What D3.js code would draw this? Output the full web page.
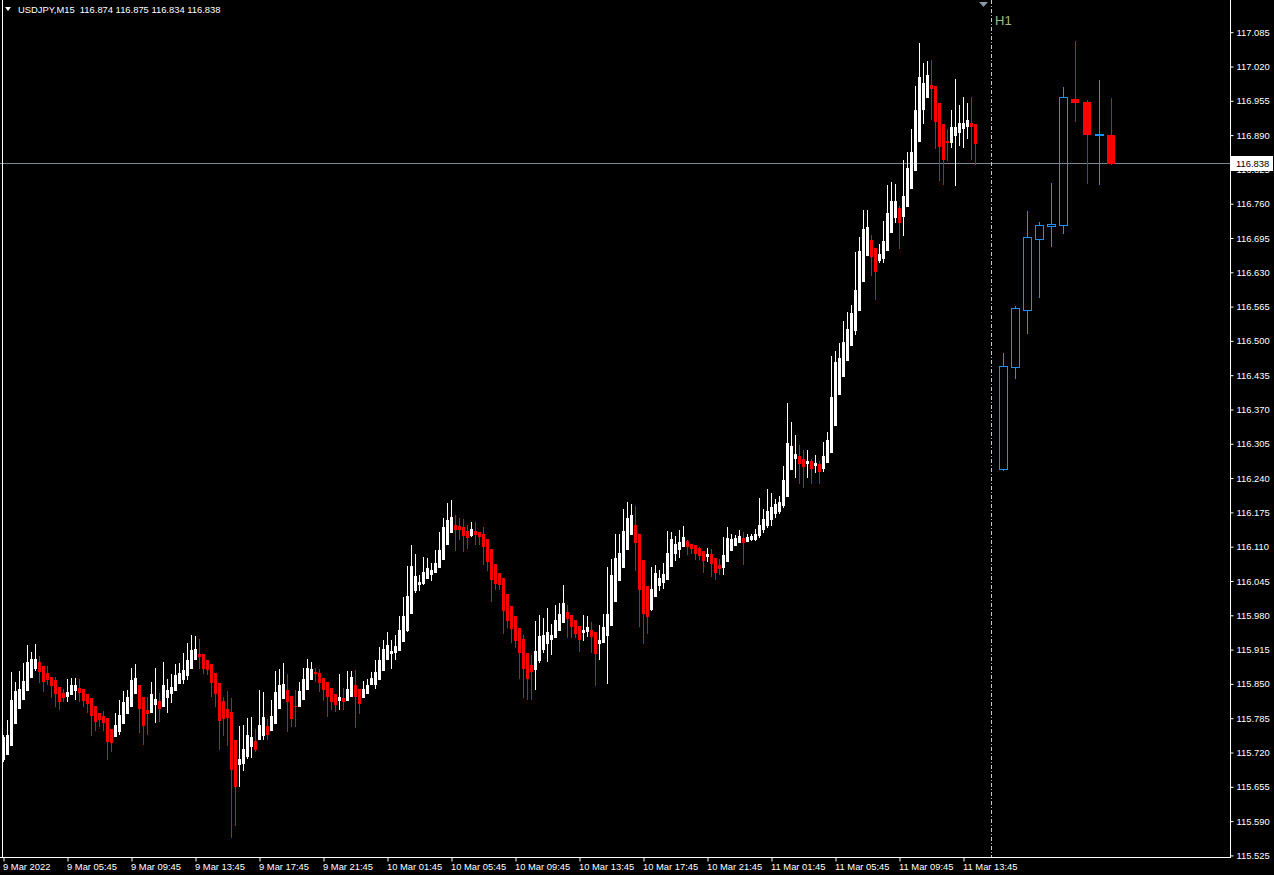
<!DOCTYPE html>
<html><head><meta charset="utf-8">
<script src="https://cdn.jsdelivr.net/npm/d3@7"></script>
<style>
html,body{margin:0;padding:0;background:#000;overflow:hidden;}
svg{display:block;}
text{font-family:"Liberation Sans",Arial,sans-serif;}
</style></head><body>
<svg id="chart" width="1274" height="875"></svg>
<script>
const symbolTitle = "USDJPY,M15  116.874 116.875 116.834 116.838";
const bidPrice = 116.838;
const periodLabel = "H1";
const priceTicks = [117.085,117.020,116.955,116.890,116.825,116.760,116.695,116.630,116.565,116.500,116.435,116.370,116.305,116.240,116.175,116.110,116.045,115.980,115.915,115.850,115.785,115.720,115.655,115.590,115.525];
const timeTickIndex = [0,16,32,48,64,80,96,112,128,144,160,176,192,208,224,240];
const timeLabels = ["9 Mar 2022","9 Mar 05:45","9 Mar 09:45","9 Mar 13:45","9 Mar 17:45","9 Mar 21:45","10 Mar 01:45","10 Mar 05:45","10 Mar 09:45","10 Mar 13:45","10 Mar 17:45","10 Mar 21:45","11 Mar 01:45","11 Mar 05:45","11 Mar 09:45","11 Mar 13:45"];

const m15Open = [115.707,115.718,115.734,115.775,115.804,115.821,115.838,115.864,115.880,115.891,115.883,115.870,115.864,115.857,115.845,115.832,115.828,115.830,115.838,115.843,115.840,115.830,115.823,115.809,115.794,115.790,115.785,115.764,115.751,115.760,115.775,115.794,115.809,115.832,115.847,115.826,115.800,115.796,115.811,115.817,115.809,115.826,115.832,115.838,115.851,115.859,115.866,115.880,115.897,115.906,115.906,115.895,115.887,115.870,115.851,115.817,115.802,115.796,115.743,115.698,115.701,115.713,115.732,115.741,115.745,115.753,115.770,115.762,115.775,115.804,115.823,115.838,115.828,115.809,115.808,115.821,115.840,115.859,115.872,115.870,115.862,115.853,115.842,115.830,115.819,115.823,115.819,115.828,115.847,115.840,115.825,115.832,115.849,115.849,115.859,115.876,115.897,115.908,115.910,115.914,115.931,115.953,115.984,116.027,116.039,116.041,116.050,116.058,116.062,116.071,116.086,116.115,116.137,116.152,116.149,116.147,116.139,116.132,116.139,116.137,116.134,116.124,116.105,116.077,116.060,116.050,116.020,115.997,115.978,115.955,115.935,115.908,115.885,115.878,115.895,115.916,115.927,115.936,115.938,115.953,115.967,115.986,115.980,115.971,115.959,115.948,115.950,115.953,115.948,115.927,115.929,115.942,115.961,116.007,116.046,116.071,116.105,116.134,116.152,116.135,116.084,116.035,115.991,116.016,116.037,116.043,116.048,116.073,116.098,116.105,116.111,116.120,116.116,116.113,116.107,116.101,116.092,116.096,116.088,116.075,116.071,116.082,116.103,116.113,116.118,116.126,116.120,116.124,116.124,116.132,116.143,116.151,116.162,116.173,116.177,116.189,116.207,116.257,116.278,116.281,116.276,116.268,116.272,116.264,116.266,116.259,116.270,116.289,116.340,116.399,116.433,116.463,116.492,116.520,116.558,116.613,116.662,116.691,116.676,116.653,116.657,116.672,116.706,116.734,116.751,116.736,116.755,116.789,116.823,116.878,116.939,116.962,116.985,116.983,116.950,116.911,116.878,116.876,116.890,116.895,116.903,116.907,116.913,116.911];
const m15High = [115.753,115.781,115.872,115.853,115.874,115.889,115.923,115.910,115.925,115.902,115.883,115.883,115.864,115.864,115.845,115.840,115.859,115.861,115.861,115.859,115.840,115.830,115.823,115.809,115.794,115.798,115.785,115.764,115.794,115.819,115.836,115.838,115.881,115.887,115.847,115.826,115.826,115.853,115.880,115.832,115.891,115.859,115.868,115.887,115.889,115.908,115.927,115.942,115.940,115.935,115.906,115.895,115.887,115.870,115.851,115.826,115.836,115.823,115.743,115.770,115.772,115.785,115.787,115.764,115.838,115.834,115.783,115.819,115.874,115.878,115.889,115.868,115.828,115.838,115.853,115.880,115.898,115.891,115.880,115.878,115.862,115.853,115.842,115.830,115.868,115.842,115.874,115.874,115.876,115.840,115.855,115.859,115.872,115.895,115.919,115.933,115.948,115.933,115.942,115.978,116.014,116.073,116.113,116.096,116.056,116.090,116.088,116.080,116.103,116.137,116.164,116.192,116.198,116.171,116.164,116.162,116.151,116.156,116.156,116.137,116.147,116.124,116.105,116.077,116.060,116.050,116.020,115.997,115.978,115.955,115.942,115.908,115.904,115.969,115.980,115.974,115.993,115.963,115.999,116.003,116.037,115.999,115.980,115.971,115.959,115.980,115.978,115.967,115.948,115.961,115.982,116.071,116.086,116.135,116.135,116.181,116.194,116.190,116.187,116.135,116.084,116.035,116.071,116.075,116.065,116.080,116.139,116.137,116.130,116.141,116.149,116.122,116.116,116.113,116.109,116.101,116.107,116.105,116.088,116.086,116.128,116.147,116.134,116.132,116.141,116.137,116.134,116.135,116.143,116.202,116.181,116.219,116.211,116.200,116.206,116.262,116.382,116.346,116.321,116.302,116.293,116.293,116.276,116.283,116.272,116.308,116.327,116.471,116.480,116.496,116.537,116.554,116.568,116.668,116.696,116.748,116.748,116.700,116.676,116.683,116.727,116.795,116.801,116.797,116.755,116.842,116.858,116.901,116.983,117.064,117.026,117.030,117.032,116.983,116.950,116.911,116.901,116.937,116.996,116.947,116.962,116.950,116.962,116.911];
const m15Low = [115.703,115.718,115.734,115.775,115.804,115.821,115.838,115.864,115.876,115.853,115.836,115.849,115.825,115.808,115.802,115.817,115.817,115.830,115.821,115.817,115.809,115.796,115.754,115.762,115.770,115.762,115.707,115.722,115.751,115.756,115.775,115.794,115.809,115.832,115.758,115.737,115.756,115.796,115.777,115.779,115.809,115.796,115.815,115.838,115.851,115.851,115.859,115.880,115.897,115.880,115.870,115.868,115.828,115.809,115.726,115.753,115.734,115.559,115.582,115.656,115.686,115.709,115.711,115.722,115.745,115.745,115.745,115.762,115.775,115.804,115.823,115.760,115.770,115.770,115.808,115.821,115.840,115.859,115.855,115.836,115.819,115.789,115.802,115.798,115.802,115.802,115.819,115.828,115.768,115.794,115.825,115.832,115.849,115.842,115.859,115.876,115.897,115.880,115.897,115.914,115.931,115.950,115.984,116.024,116.027,116.039,116.050,116.046,116.062,116.071,116.086,116.115,116.137,116.103,116.124,116.101,116.107,116.130,116.116,116.116,116.077,116.065,116.008,116.029,116.029,115.946,115.957,115.929,115.919,115.862,115.825,115.821,115.821,115.840,115.891,115.910,115.893,115.906,115.938,115.953,115.967,115.938,115.938,115.938,115.912,115.933,115.940,115.910,115.847,115.898,115.929,115.851,115.961,116.007,116.046,116.071,116.105,116.134,116.065,115.959,115.927,115.946,115.990,116.016,116.027,116.031,116.048,116.073,116.084,116.090,116.111,116.096,116.099,116.086,116.086,116.062,116.082,116.054,116.048,116.058,116.058,116.082,116.103,116.113,116.118,116.077,116.120,116.122,116.122,116.128,116.137,116.147,116.152,116.166,116.173,116.185,116.207,116.257,116.243,116.230,116.224,116.243,116.230,116.251,116.230,116.253,116.270,116.289,116.340,116.399,116.433,116.463,116.492,116.513,116.558,116.613,116.662,116.624,116.579,116.649,116.649,116.672,116.706,116.725,116.676,116.700,116.755,116.789,116.823,116.878,116.913,116.962,116.920,116.865,116.805,116.797,116.842,116.867,116.795,116.871,116.867,116.884,116.844,116.835];
const m15Close = [115.749,115.753,115.819,115.836,115.840,115.855,115.891,115.898,115.898,115.874,115.855,115.859,115.847,115.832,115.817,115.825,115.834,115.847,115.847,115.834,115.819,115.813,115.792,115.779,115.783,115.777,115.741,115.739,115.772,115.792,115.815,115.825,115.857,115.862,115.804,115.772,115.794,115.830,115.821,115.804,115.847,115.838,115.845,115.866,115.870,115.876,115.895,115.914,115.916,115.902,115.881,115.878,115.853,115.832,115.781,115.785,115.787,115.688,115.656,115.707,115.726,115.753,115.749,115.726,115.773,115.787,115.756,115.789,115.834,115.847,115.849,115.817,115.785,115.808,115.836,115.859,115.881,115.878,115.870,115.853,115.840,115.828,115.817,115.811,115.825,115.817,115.840,115.864,115.828,115.813,115.840,115.847,115.862,115.872,115.895,115.917,115.923,115.912,115.921,115.952,115.978,116.016,116.073,116.054,116.043,116.062,116.069,116.065,116.080,116.103,116.147,116.160,116.166,116.143,116.143,116.132,116.128,116.143,116.135,116.130,116.111,116.082,116.048,116.041,116.039,115.990,115.972,115.955,115.933,115.910,115.880,115.861,115.874,115.912,115.940,115.942,115.948,115.942,115.971,115.982,116.003,115.974,115.959,115.946,115.936,115.953,115.957,115.940,115.908,115.933,115.957,115.982,116.056,116.088,116.098,116.139,116.164,116.170,116.118,116.029,115.984,115.978,116.029,116.060,116.050,116.058,116.099,116.124,116.116,116.118,116.128,116.111,116.107,116.099,116.094,116.084,116.096,116.080,116.062,116.069,116.094,116.126,116.124,116.126,116.130,116.118,116.128,116.130,116.135,116.151,116.162,116.177,116.185,116.190,116.194,116.236,116.306,116.300,116.285,116.268,116.263,116.272,116.259,116.268,116.253,116.281,116.312,116.393,116.460,116.467,116.497,116.522,116.552,116.596,116.670,116.712,116.715,116.660,116.632,116.664,116.689,116.742,116.765,116.765,116.725,116.774,116.827,116.858,116.937,117.000,116.988,117.004,116.979,116.916,116.869,116.844,116.876,116.905,116.905,116.913,116.913,116.918,116.907,116.875];

const h1Open  = [116.257,116.450,116.558,116.693,116.717,116.719,116.958,116.952,116.891,116.891];
const h1High  = [116.478,116.566,116.746,116.725,116.799,116.981,117.068,116.956,116.994,116.960];
const h1Low   = [116.255,116.429,116.515,116.583,116.679,116.704,116.916,116.799,116.797,116.836];
const h1Close = [116.452,116.562,116.696,116.719,116.721,116.962,116.952,116.893,116.893,116.838];

const W = 1274, H = 875;
const plotRight = 1230, plotBottom = 857;
const svg = d3.select("#chart");
svg.append("rect").attr("width", W).attr("height", H).attr("fill", "#000");

const y = d3.scaleLinear().domain([115.525, 117.085]).range([855.4, 32.2]);
const x = d3.scaleLinear().domain([0, m15Open.length - 1]).range([3.5, 3.5 + 4 * (m15Open.length - 1)]);
const xh = d3.scaleLinear().domain([0, h1Open.length - 1]).range([1003.5, 1003.5 + 12 * (h1Open.length - 1)]);
const py = v => Math.round(y(v));

// bid line
svg.append("line").attr("x1", 0).attr("x2", plotRight).attr("y1", py(bidPrice) + 0.5).attr("y2", py(bidPrice) + 0.5)
  .attr("stroke", "#778899").attr("stroke-width", 1);

// M15 candles
const m15 = m15Open.map((o, i) => ({ i, o, h: m15High[i], l: m15Low[i], c: m15Close[i] }));
const gM = svg.append("g").attr("shape-rendering", "crispEdges");
gM.selectAll("rect.wick").data(m15).join("rect").attr("class", "wick")
  .attr("x", d => Math.floor(x(d.i))).attr("width", 1)
  .attr("y", d => py(d.h)).attr("height", d => Math.max(1, py(d.l) - py(d.h) + 1))
  .attr("fill", d => d.c >= d.o ? "#ffffff" : "#ff0000");
gM.selectAll("rect.body").data(m15).join("rect").attr("class", "body")
  .attr("x", d => Math.floor(x(d.i)) - 1).attr("width", 3)
  .attr("y", d => py(Math.max(d.o, d.c))).attr("height", d => Math.max(1, py(Math.min(d.o, d.c)) - py(Math.max(d.o, d.c)) + 1))
  .attr("fill", d => d.c >= d.o ? "#ffffff" : "#ff0000");

// period separator (dashed)
svg.append("line").attr("x1", 991.5).attr("x2", 991.5).attr("y1", 0).attr("y2", plotBottom)
  .attr("stroke", "#c8c8c8").attr("stroke-width", 1).attr("stroke-dasharray", "4,2,1,2");

// H1 candles
const h1 = h1Open.map((o, i) => ({ i, o, h: h1High[i], l: h1Low[i], c: h1Close[i] }));
const gH = svg.append("g").attr("shape-rendering", "crispEdges");
h1.forEach(d => {
  const cx = Math.floor(xh(d.i));
  const top = py(Math.max(d.o, d.c)), bot = py(Math.min(d.o, d.c));
  if (d.c >= d.o) {
    const col = "#1e90ff";
    gH.append("rect").attr("x", cx).attr("width", 1).attr("y", py(d.h)).attr("height", Math.max(0, top - py(d.h))).attr("fill", col);
    gH.append("rect").attr("x", cx).attr("width", 1).attr("y", bot).attr("height", Math.max(0, py(d.l) - bot + 1)).attr("fill", col);
    gH.append("rect").attr("x", cx - 3.5).attr("width", 8).attr("y", top + 0.5).attr("height", Math.max(1, bot - top))
      .attr("fill", "none").attr("stroke", col).attr("stroke-width", 1);
  } else {
    const col = "#ff0000";
    gH.append("rect").attr("x", cx).attr("width", 1).attr("y", py(d.h)).attr("height", py(d.l) - py(d.h) + 1).attr("fill", col);
    gH.append("rect").attr("x", cx - 4).attr("width", 8).attr("y", top).attr("height", Math.max(2, bot - top + 1)).attr("fill", col);
  }
});

// frame lines
svg.append("line").attr("x1", plotRight + 0.5).attr("x2", plotRight + 0.5).attr("y1", 0).attr("y2", plotBottom + 1).attr("stroke", "#fff");
svg.append("line").attr("x1", 0).attr("x2", plotRight + 1).attr("y1", plotBottom + 0.5).attr("y2", plotBottom + 0.5).attr("stroke", "#fff");
svg.append("line").attr("x1", 2.5).attr("x2", 2.5).attr("y1", 0).attr("y2", plotBottom).attr("stroke", "#fff");

// price axis
const yAxis = d3.axisRight(y).tickValues(priceTicks).tickFormat(d3.format(".3f")).tickSize(3).tickPadding(3);
const gy = svg.append("g").attr("transform", `translate(${plotRight + 0.5},0)`).call(yAxis);
gy.select(".domain").remove();
gy.selectAll(".tick line").attr("stroke", "#fff");
gy.selectAll(".tick text").attr("fill", "#fff").style("font-size", "9.4px").style("font-family", "'Liberation Sans',Arial,sans-serif");

// time axis
const xAxis = d3.axisBottom(x).tickValues(timeTickIndex).tickFormat((d, i) => timeLabels[i]).tickSize(4).tickPadding(2);
const gx = svg.append("g").attr("transform", `translate(0,${plotBottom + 0.5})`).call(xAxis);
gx.select(".domain").remove();
gx.selectAll(".tick line").attr("stroke", "#fff");
gx.selectAll(".tick text").attr("fill", "#fff").attr("text-anchor", "start").attr("x", -1).attr("dy", "0.71em")
  .style("font-size", "9.4px").style("font-family", "'Liberation Sans',Arial,sans-serif");

// bid label (covers the neighbouring scale label as in the reference)
const by = py(bidPrice);
svg.append("rect").attr("x", plotRight + 1).attr("y", by - 7).attr("width", 42).attr("height", 15).attr("fill", "#fff");
svg.append("text").attr("x", plotRight + 6).attr("y", by + 4).attr("fill", "#000").style("font-size", "9.4px").text(d3.format(".3f")(bidPrice));

// header
svg.append("path").attr("d", "M5,7 L11,7 L8,11 Z").attr("fill", "#fff");
svg.append("text").attr("x", 18).attr("y", 13).attr("fill", "#fff").style("font-size", "9.4px").style("white-space", "pre").text(symbolTitle);

// shift marker and period label
svg.append("path").attr("d", "M979,2 L988,2 L983.5,7 Z").attr("fill", "#8a97a6");
svg.append("text").attr("x", 995).attr("y", 25).attr("fill", "#a6b98a").style("font-size", "13px").text(periodLabel);
</script>
</body></html>
